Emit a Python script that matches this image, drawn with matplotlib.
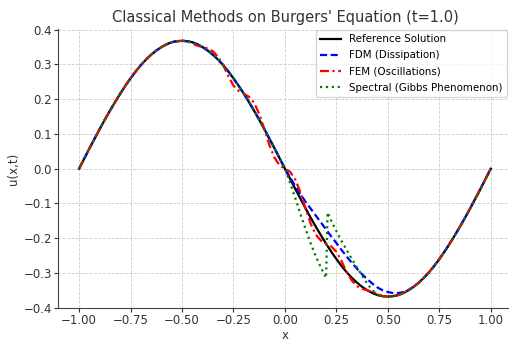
import numpy as np
import matplotlib
matplotlib.use('Agg')
import matplotlib.pyplot as plt

# sample grid, step 0.025 on [-1, 1]
x = np.linspace(-1, 1, 81)

ref = [0.000, 0.029, 0.058, 0.086, 0.114, 0.141, 0.167, 0.192, 0.216, 0.239,
       0.260, 0.280, 0.298, 0.314, 0.328, 0.340, 0.350, 0.358, 0.364, 0.367,
       0.368, 0.367, 0.364, 0.358, 0.350, 0.340, 0.328, 0.314, 0.298, 0.280,
       0.260, 0.239, 0.216, 0.192, 0.167, 0.141, 0.114, 0.086, 0.058, 0.029,
       0.000,
       -0.029, -0.058, -0.086, -0.114, -0.141, -0.167, -0.192, -0.216, -0.239,
       -0.260, -0.280, -0.298, -0.314, -0.328, -0.340, -0.350, -0.358, -0.364,
       -0.367, -0.368, -0.367, -0.364, -0.358, -0.350, -0.340, -0.328, -0.314,
       -0.298, -0.280, -0.260, -0.239, -0.216, -0.192, -0.167, -0.141, -0.114,
       -0.086, -0.058, -0.029, 0.000]

fdm = [0.000, 0.029, 0.058, 0.086, 0.114, 0.141, 0.167, 0.192, 0.216, 0.239,
       0.260, 0.280, 0.298, 0.314, 0.328, 0.340, 0.350, 0.358, 0.364, 0.367,
       0.368, 0.367, 0.364, 0.358, 0.350, 0.340, 0.328, 0.314, 0.298, 0.280,
       0.260, 0.239, 0.216, 0.192, 0.167, 0.141, 0.114, 0.086, 0.058, 0.029,
       0.000,
       -0.025, -0.050, -0.073, -0.095, -0.115, -0.135, -0.155, -0.175, -0.195,
       -0.214, -0.234, -0.253, -0.271, -0.288, -0.304, -0.318, -0.331, -0.342,
       -0.350, -0.355, -0.358, -0.358, -0.355, -0.349, -0.340, -0.328, -0.314,
       -0.298, -0.280, -0.260, -0.239, -0.216, -0.192, -0.167, -0.141, -0.114,
       -0.086, -0.058, -0.029, 0.000]

fem = [0.000, 0.029, 0.058, 0.086, 0.114, 0.141, 0.167, 0.192, 0.216, 0.239,
       0.260, 0.280, 0.298, 0.314, 0.328, 0.340, 0.350, 0.358, 0.364, 0.367,
       0.368, 0.367, 0.360, 0.354, 0.350, 0.346, 0.338, 0.322, 0.298, 0.266,
       0.239, 0.224, 0.216, 0.207, 0.190, 0.158, 0.114, 0.067, 0.031, 0.009,
       0.000,
       -0.009, -0.031, -0.067, -0.114, -0.158, -0.190, -0.207, -0.216, -0.224,
       -0.239, -0.266, -0.298, -0.322, -0.338, -0.346, -0.350, -0.354, -0.360,
       -0.367, -0.368, -0.367, -0.364, -0.358, -0.350, -0.340, -0.328, -0.314,
       -0.298, -0.280, -0.260, -0.239, -0.216, -0.192, -0.167, -0.141, -0.114,
       -0.086, -0.058, -0.029, 0.000]

# spectral: follows reference outside the Gibbs region
spec_mid_x = [0.025, 0.050, 0.075, 0.100, 0.125, 0.150, 0.175, 0.200, 0.207,
              0.225, 0.250, 0.275, 0.300, 0.325, 0.350, 0.375, 0.400, 0.425,
              0.450, 0.475]
spec_mid_y = [-0.041, -0.084, -0.130, -0.173, -0.215, -0.252, -0.285, -0.314,
              -0.126, -0.150, -0.180, -0.208, -0.234, -0.260, -0.284, -0.308,
              -0.331, -0.350, -0.362, -0.367]

spec_x = np.concatenate([x[:41], spec_mid_x, x[60:]])
spec_y = np.concatenate([ref[:41], spec_mid_y, ref[60:]])

fig = plt.figure(figsize=(5.1, 3.43), dpi=100)
ax = fig.add_axes([0.1147, 0.102, 0.888, 0.8134])

lw = 1.6
ax.plot(x, ref, color='black', lw=lw, label='Reference Solution')
ax.plot(x, fdm, color='blue', ls=(0, (3.2, 1.6)), lw=lw,
        label='FDM (Dissipation)')
ax.plot(x, fem, color='red', ls=(0, (4, 1.6, 1, 1.6)), lw=lw,
        label='FEM (Oscillations)')
ax.plot(spec_x, spec_y, color='green', ls=':', lw=lw,
        label='Spectral (Gibbs Phenomenon)')

ax.set_xlim(-1.1, 1.1)
ax.set_ylim(-0.401, 0.402)
ax.set_xticks([-1.0, -0.75, -0.5, -0.25, 0.0, 0.25, 0.5, 0.75, 1.0])
ax.set_yticks([-0.4, -0.3, -0.2, -0.1, 0.0, 0.1, 0.2, 0.3, 0.4])
ax.tick_params(labelsize=8.5, colors='#333333', length=3, pad=1.5)
ax.set_xlabel('x', fontsize=8.5, color='#333333', labelpad=1)
ax.set_ylabel('u(x,t)', fontsize=8.5, color='#333333', labelpad=3)
ax.set_title("Classical Methods on Burgers' Equation (t=1.0)",
             fontsize=10.5, color='#333333', pad=5)
ax.grid(True, ls='--', lw=0.6, color='#cccccc')
for side in ('top', 'right'):
  ax.spines[side].set_visible(False)
for side in ('left', 'bottom'):
  ax.spines[side].set_color('#444444')

ax.legend(loc='upper right', bbox_to_anchor=(0.9935, 0.9125),
          bbox_transform=fig.transFigure, borderaxespad=0,
          fontsize=7.4, labelspacing=0.6)

fig.savefig('out.png', dpi=100)
